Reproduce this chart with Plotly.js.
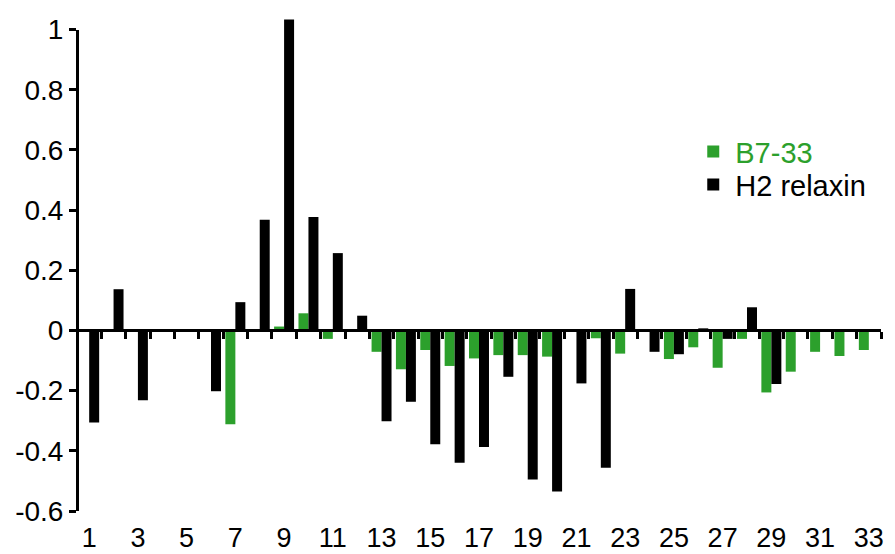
<!DOCTYPE html>
<html>
<head>
<meta charset="utf-8">
<script src="https://cdn.plot.ly/plotly-3.0.1.min.js"></script>
<style>html,body{margin:0;padding:0;background:#fff;}#chart{width:895px;height:554px;}</style>
</head>
<body>
<div id="chart"></div>
<script>
const positions = [1,2,3,4,5,6,7,8,9,10,11,12,13,14,15,16,17,18,19,20,21,22,23,24,25,26,27,28,29,30,31,32,33];
const b733 = [null,null,null,null,null,null,-0.312,null,0.013,0.057,-0.028,-0.005,-0.071,-0.129,-0.065,-0.118,-0.093,-0.082,-0.082,-0.087,null,-0.026,-0.077,null,-0.095,-0.056,-0.124,-0.028,-0.206,-0.137,-0.071,-0.085,-0.065];
const h2relaxin = [-0.306,0.137,-0.232,null,null,-0.202,0.094,0.368,1.033,0.377,0.257,0.049,-0.302,-0.237,-0.378,-0.44,-0.387,-0.154,-0.495,-0.535,-0.176,-0.456,0.138,-0.071,-0.079,0.007,-0.028,0.077,-0.178,null,null,null,null];
const xTickVals = [1,3,5,7,9,11,13,15,17,19,21,23,25,27,29,31,33];
const xTickText = ['1','3','5','7','9','11','13','15','17','19','21','23','25','27','29','31','33'];
const yTickVals = [-0.6,-0.4,-0.2,0,0.2,0.4,0.6,0.8,1];
const yTickText = ['-0.6','-0.4','-0.2','0','0.2','0.4','0.6','0.8','1'];
const boundaries = positions.map(p => p - 0.5).concat([positions[positions.length-1] + 0.5]);

const axisMin = -0.6, axisMax = 1;     // visible y axis line/ticks
const dataMax = 1.035;                 // headroom so the tallest bar is not clipped
const zeroPos = (0 - axisMin) / (dataMax - axisMin);
const axisDomainTop = (axisMax - axisMin) / (dataMax - axisMin);
const FONT = 'Arial, "Liberation Sans", Helvetica, sans-serif';

const traces = [
  {type:'bar', x:positions, y:b733, name:'<span style="color:#2ca02c">B7-33</span>', legend:'legend',
   marker:{color:'#2ca02c', line:{width:0}}, hoverinfo:'x+y'},
  {type:'bar', x:positions, y:h2relaxin, name:'H2 relaxin', legend:'legend2',
   marker:{color:'#000000', line:{width:0}}, hoverinfo:'x+y'},
  {type:'scatter', x:[], y:[], xaxis:'x2', yaxis:'y', showlegend:false, hoverinfo:'skip'},
  {type:'scatter', x:[], y:[], xaxis:'x', yaxis:'y2', showlegend:false, hoverinfo:'skip'}
];

const legendCommon = {xanchor:'left', yanchor:'top', bgcolor:'rgba(0,0,0,0)', borderwidth:0,
  font:{family:FONT, size:29, color:'#000'}, itemclick:false, itemwidth:34};

const layout = {
  width:895, height:554,
  margin:{l:77, r:14, t:19, b:43, pad:0},
  paper_bgcolor:'#ffffff', plot_bgcolor:'rgba(0,0,0,0)',
  font:{family:FONT, size:28, color:'#000'},
  barmode:'group', bargap:0.18, bargroupgap:0,
  showlegend:true,
  legend:Object.assign({x:0.764, y:0.782}, legendCommon),
  legend2:Object.assign({x:0.764, y:0.715}, legendCommon),
  xaxis:{range:[0.5,33.5], tickmode:'array', tickvals:xTickVals, ticktext:xTickText,
         showline:false, showgrid:false, zeroline:false, ticks:'', ticklabelstandoff:8,
         tickfont:{family:FONT, size:27, color:'#000'}, fixedrange:true},
  xaxis2:{overlaying:'x', anchor:'free', position:zeroPos, range:[0.5,33.5], matches:'x',
          tickmode:'array', tickvals:boundaries, showticklabels:false,
          showline:true, linecolor:'#000', linewidth:3, ticks:'outside', ticklen:7, tickwidth:3, tickcolor:'#000',
          showgrid:false, zeroline:false, fixedrange:true},
  yaxis:{range:[axisMin,dataMax], showline:false, showticklabels:false, ticks:'',
         showgrid:false, zeroline:false, fixedrange:true},
  yaxis2:{domain:[0, axisDomainTop], anchor:'free', position:0, range:[axisMin,axisMax],
          tickmode:'array', tickvals:yTickVals, ticktext:yTickText,
          showline:true, linecolor:'#000', linewidth:3, ticks:'outside', ticklen:7, tickwidth:3, tickcolor:'#000',
          showgrid:false, zeroline:false, tickfont:{family:FONT, size:28, color:'#000'}, fixedrange:true}
};

Plotly.newPlot('chart', traces, layout, {displayModeBar:false, staticPlot:true});
</script>
</body>
</html>
